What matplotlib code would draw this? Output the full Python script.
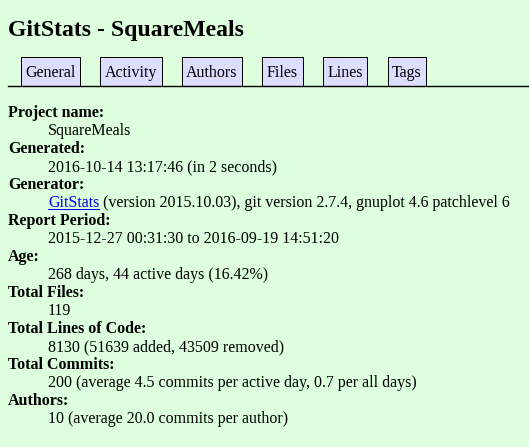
import matplotlib
matplotlib.use("Agg")
import matplotlib.pyplot as plt
from matplotlib.patches import Rectangle

# page content
title = "GitStats - SquareMeals"
tabs = ["General", "Activity", "Authors", "Files", "Lines", "Tags"]
tab_left = [21, 100, 182, 262, 323, 388]
tab_right = [80, 162, 242, 303, 367, 426]
labels = ["Project name:", "Generated:", "Generator:", "Report Period:", "Age:",
          "Total Files:", "Total Lines of Code:", "Total Commits:", "Authors:"]
values = ["SquareMeals",
          "2016-10-14 13:17:46 (in 2 seconds)",
          "(version 2015.10.03), git version 2.7.4, gnuplot 4.6 patchlevel 6",
          "2015-12-27 00:31:30 to 2016-09-19 14:51:20",
          "268 days, 44 active days (16.42%)",
          "119",
          "8130 (51639 added, 43509 removed)",
          "200 (average 4.5 commits per active day, 0.7 per all days)",
          "10 (average 20.0 commits per author)"]
link_text = "GitStats"

W, H = 529, 447
px = 72 / 100  # points per pixel
font = "Liberation Serif"

fig = plt.figure(figsize=(W / 100, H / 100), dpi=100, facecolor="#ddffdd")
ax = fig.add_axes([0, 0, 1, 1])
ax.set_xlim(0, W)
ax.set_ylim(H, 0)
ax.axis("off")

ax.text(8, 36, title, fontsize=23.8 * px, fontweight="bold", family=font, va="baseline")

# tabs
for name, l, r in zip(tabs, tab_left, tab_right):
    ax.add_patch(Rectangle((l, 57), r - l, 29, facecolor="#ddddff", edgecolor="black", lw=1 * px))
    ax.text((l + r) / 2, 77, name, fontsize=16 * px, family=font, ha="center", va="baseline")
ax.plot([8, W], [86, 86], color="black", lw=1.4 * px)

renderer = fig.canvas.get_renderer()
y = 117
for lab, val in zip(labels, values):
    ax.text(8, y, lab, fontsize=16 * px, fontweight="bold", family=font, va="baseline")
    y += 18
    if lab == "Generator:":
        t = ax.text(48, y, link_text, fontsize=16 * px, family=font, va="baseline", color="#0000ee")
        bb = t.get_window_extent(renderer).transformed(ax.transData.inverted())
        ax.plot([bb.x0, bb.x1], [y + 2, y + 2], color="#0000ee", lw=1 * px)
        ax.text(bb.x1 + 4, y, val, fontsize=16 * px, family=font, va="baseline")
    else:
        ax.text(48, y, val, fontsize=16 * px, family=font, va="baseline")
    y += 18

fig.savefig("out.png", dpi=100, facecolor=fig.get_facecolor())
